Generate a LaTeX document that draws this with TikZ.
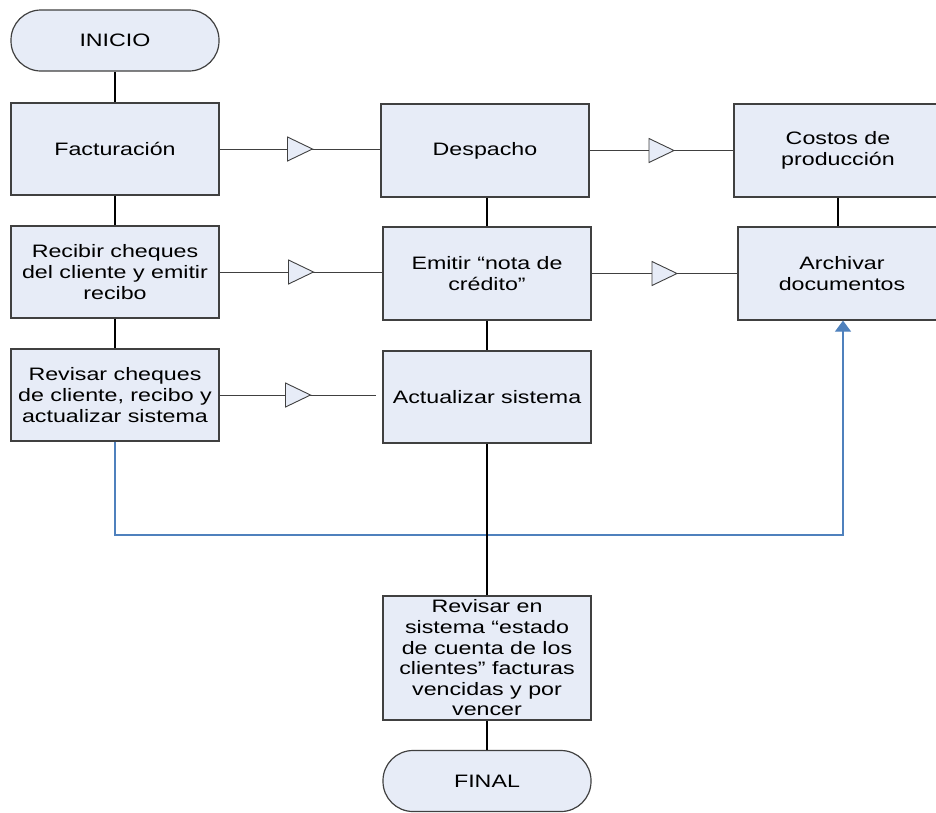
\documentclass[tikz,border=0pt]{standalone}
\usepackage{fontspec}
\setmainfont[FakeStretch=1.29]{Liberation Sans}
\usetikzlibrary{arrows.meta,decorations.markings}
\definecolor{boxfill}{RGB}{231,236,247}
\definecolor{boxline}{RGB}{64,64,64}
\definecolor{flowblue}{RGB}{79,129,189}
\begin{document}
\begin{tikzpicture}[x=1pt,y=-1pt,
  box/.style={rectangle, draw=boxline, line width=1.2pt, fill=boxfill,
    minimum width=208pt, minimum height=93pt, inner sep=0pt, align=center,
    font=\fontsize{18}{21}\selectfont},
  term/.style={box, minimum height=61pt, rounded corners=30pt},
  vconn/.style={draw=black, line width=2.4pt},
  vconnthin/.style={draw=black, line width=1.2pt},
  hconn/.style={draw=boxline, line width=1pt, postaction={decorate},
    decoration={markings, mark=at position 0.5 with {\draw[fill=boxfill, draw=boxline, line width=0.9pt] (-12.5pt,-12pt) -- (12.5pt,0pt) -- (-12.5pt,12pt) -- cycle;}}},
  feedback/.style={draw=flowblue, line width=1.1pt, -{Triangle[length=11pt,width=16pt]}}
]
\useasboundingbox (0,0) rectangle (936,812);
\clip (0,0) rectangle (936,812);

\node[term] (inicio) at (115,40.5) {INICIO};
\node[box, minimum height=92pt] (fact) at (115,149) {Facturación};
\node[box] (desp) at (485,150.5) {Despacho};
\node[box] (costos) at (838,150.5) {Costos de\\producción};
\node[box, minimum height=92pt] (recibir) at (115,272) {Recibir cheques\\del cliente y emitir\\recibo};
\node[box] (emitir) at (487,273.5) {Emitir “nota de\\crédito”};
\node[box] (archivar) at (842,273.5) {Archivar\\documentos};
\node[box, minimum height=92pt] (revcheq) at (115,395) {Revisar cheques\\de cliente, recibo y\\actualizar sistema};
\node[box, minimum height=92pt] (actual) at (487,397) {Actualizar sistema};
\node[box, minimum height=124pt, font=\fontsize{18}{20.6}\selectfont] (revsis) at (487,658) {Revisar en\\sistema “estado\\de cuenta de los\\clientes” facturas\\vencidas y por\\vencer};
\node[term] (final) at (487,781) {FINAL};

% feedback (blue)
\coordinate (fbturn) at (843,535);
\draw[feedback] (revcheq.south) |- (fbturn) -- (fbturn |- archivar.south);

% vertical connectors
\draw[vconn] (inicio.south) -- (fact.north);
\draw[vconn] (fact.south) -- (recibir.north);
\draw[vconn] (recibir.south) -- (revcheq.north);
\draw[vconn] (desp.south -| emitir.north) -- (emitir.north);
\draw[vconn] (emitir.south) -- (actual.north);
\draw[vconn] (actual.south) -- (revsis.north);
\draw[vconn] (revsis.south) -- (final.north);
\draw[vconnthin] (costos.south) -- (costos.south |- archivar.north);

% horizontal connectors with flow markers
\draw[hconn] (fact.east) -- (fact.east -| desp.west);
\draw[hconn] (desp.east) -- (desp.east -| costos.west);
\draw[hconn] (recibir.east) -- (recibir.east -| emitir.west);
\draw[hconn] (emitir.east) -- (emitir.east -| archivar.west);
\coordinate[xshift=-6pt] (actin) at (revcheq.east -| actual.west);
\draw[hconn] (revcheq.east) -- (actin);
\end{tikzpicture}
\end{document}
